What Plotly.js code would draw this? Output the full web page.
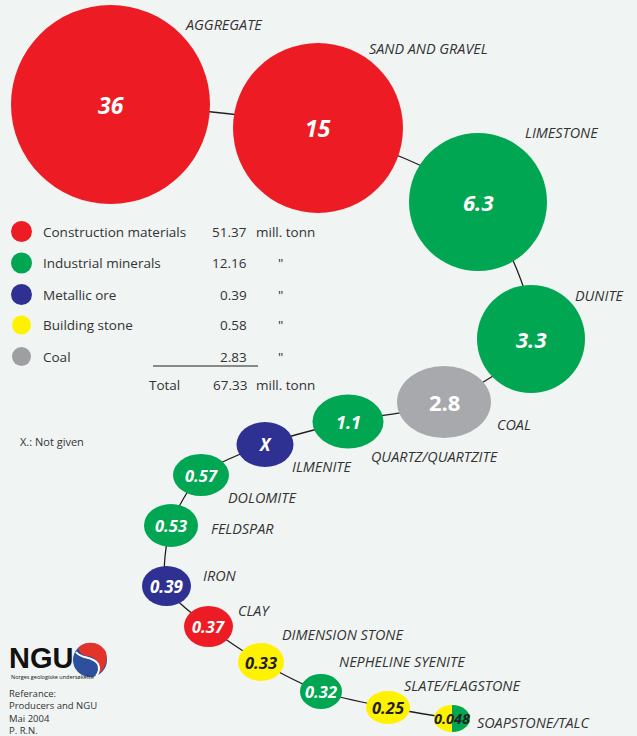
<!DOCTYPE html>
<html>
<head>
<meta charset="utf-8">
<script src="https://cdn.plot.ly/plotly-3.0.1.min.js"></script>
<style>
  html, body { margin: 0; padding: 0; background: #f0f4f3; }
  #chart { width: 637px; height: 736px; }
</style>
</head>
<body>
<div id="chart"></div>
<script>
// ---------------- DATA ----------------
const minerals = ['AGGREGATE', 'SAND AND GRAVEL', 'LIMESTONE', 'DUNITE', 'COAL',
  'QUARTZ/QUARTZITE', 'ILMENITE', 'DOLOMITE', 'FELDSPAR', 'IRON', 'CLAY',
  'DIMENSION STONE', 'NEPHELINE SYENITE', 'SLATE/FLAGSTONE', 'SOAPSTONE/TALC'];
const production = ['36', '15', '6.3', '3.3', '2.8', '1.1', 'X', '0.57', '0.53',
  '0.39', '0.37', '0.33', '0.32', '0.25', '0.048'];
const mineralGroup = ['Construction materials', 'Construction materials', 'Industrial minerals',
  'Industrial minerals', 'Coal', 'Industrial minerals', 'Metallic ore', 'Industrial minerals',
  'Industrial minerals', 'Metallic ore', 'Construction materials', 'Building stone',
  'Industrial minerals', 'Building stone', 'Building stone'];
// soapstone/talc is shared between two groups (half-and-half bubble)
const secondGroup = [null, null, null, null, null, null, null, null, null, null, null, null, null, null, 'Industrial minerals'];

const groups = ['Construction materials', 'Industrial minerals', 'Metallic ore', 'Building stone', 'Coal'];
const groupTotals = ['51.37', '12.16', '0.39', '0.58', '2.83'];
const groupUnits = ['mill. tonn', '"', '"', '"', '"'];
const totalLabel = 'Total';
const totalValue = '67.33';
const totalUnit = 'mill. tonn';
const noteText = 'X.: Not given';
const logoText = 'NGU';
const logoSubText = 'Norges geologiske undersøkelse';
const referenceLines = ['Referance:', 'Producers and NGU', 'Mai 2004', 'P. R.N.'];

// ---------------- LAYOUT GEOMETRY (pixel frame) ----------------
const cx = [110.5, 318, 478, 531, 444, 348, 265, 201, 171, 166.5, 208.5, 261, 321, 388, 452];
const cy = [104.5, 128, 202, 339, 402, 421.5, 444.5, 475, 525.5, 586, 626.5, 662, 691.5, 707.5, 718.5];
const rx = [99.5, 85, 69, 54, 47, 35.5, 28.5, 28, 27, 24.5, 24.5, 23, 21, 22, 18];
const ry = [99.5, 85, 69, 54, 36, 27, 22.5, 21, 21.5, 20, 20.5, 19, 17.5, 16.5, 13.5];
const labelX = [185, 369, 525, 575, 497, 371, 292, 228, 211, 203, 238, 282, 339, 404, 477];
const labelY = [24, 48, 132, 295, 424, 456, 466, 497, 528, 575, 610, 634, 661, 685, 722];
const valueSize = [23, 23, 22, 22, 22, 18, 17, 16.5, 16.5, 17, 16.5, 16.5, 16.5, 16.5, 14.5];
const valueItalic = [1, 1, 1, 1, 0, 1, 1, 1, 1, 1, 1, 1, 1, 1, 1];

const groupColor = {
  'Construction materials': '#ed1c24',
  'Industrial minerals': '#00a651',
  'Metallic ore': '#2e3192',
  'Building stone': '#fff200',
  'Coal': '#a7a9ac'
};
const legendDotColor = ['#ed1c24', '#00a651', '#2e3192', '#fff200', '#9d9fa2'];
const BG = '#f0f4f3';
const INK = '#231f20';
const TXT = '#333333';
const FONT = 'Open Sans, sans-serif';
const LEG = 13.5;

// ---------------- BUILD ----------------
const shapes = [];
const annotations = [];

mineralGroup.forEach((g, i) => {
  shapes.push({
    type: 'circle', xref: 'x', yref: 'y', layer: 'above',
    x0: cx[i] - rx[i], x1: cx[i] + rx[i], y0: cy[i] - ry[i], y1: cy[i] + ry[i],
    fillcolor: groupColor[g], line: { width: 0 }
  });
  if (secondGroup[i]) {
    const k = 0.5523, x = cx[i], y = cy[i], a = rx[i], b = ry[i];
    shapes.push({
      type: 'path', xref: 'x', yref: 'y', layer: 'above',
      path: `M ${x},${y - b} C ${x + k * a},${y - b} ${x + a},${y - k * b} ${x + a},${y} ` +
            `C ${x + a},${y + k * b} ${x + k * a},${y + b} ${x},${y + b} Z`,
      fillcolor: groupColor[secondGroup[i]], line: { width: 0 }
    });
  }
  const dark = g === 'Building stone';
  annotations.push({
    x: cx[i], y: cy[i], xref: 'x', yref: 'y', text: production[i], showarrow: false,
    xanchor: 'center', yanchor: 'middle',
    font: { family: FONT, size: valueSize[i], color: dark ? INK : '#ffffff', weight: 700,
            style: valueItalic[i] ? 'italic' : 'normal' }
  });
  annotations.push({
    x: labelX[i], y: labelY[i], xref: 'x', yref: 'y', text: minerals[i], showarrow: false,
    xanchor: 'left', yanchor: 'middle', xshift: -2,
    font: { family: FONT, size: 14.4, color: TXT, style: 'italic' }
  });
});

// legend block
const legY = [231.5, 263, 294.5, 325, 356.5];
const legR = [10.5, 10.5, 10.5, 9.5, 9.5];
groups.forEach((g, i) => {
  shapes.push({
    type: 'circle', xref: 'x', yref: 'y', layer: 'above',
    x0: 21.5 - legR[i], x1: 21.5 + legR[i], y0: legY[i] - legR[i], y1: legY[i] + legR[i],
    fillcolor: legendDotColor[i], line: { width: 0 }
  });
  annotations.push({ x: 41, y: legY[i], xref: 'x', yref: 'y', text: g, showarrow: false,
    xanchor: 'left', yanchor: 'middle', font: { family: FONT, size: LEG, color: TXT } });
  annotations.push({ x: 249, y: legY[i], xref: 'x', yref: 'y', text: groupTotals[i], showarrow: false,
    xanchor: 'right', yanchor: 'middle', font: { family: FONT, size: LEG, color: TXT } });
  const isUnit = groupUnits[i] !== '"';
  annotations.push({ x: isUnit ? 254 : 280, y: legY[i], xref: 'x', yref: 'y', text: groupUnits[i], showarrow: false,
    xanchor: isUnit ? 'left' : 'center', yanchor: 'middle', font: { family: FONT, size: LEG, color: TXT } });
});
shapes.push({ type: 'line', xref: 'x', yref: 'y', x0: 153, x1: 258, y0: 366, y1: 366,
  line: { color: INK, width: 1.2 } });
annotations.push({ x: 147, y: 384.5, xref: 'x', yref: 'y', text: totalLabel, showarrow: false,
  xanchor: 'left', yanchor: 'middle', font: { family: FONT, size: LEG, color: TXT } });
annotations.push({ x: 249, y: 384.5, xref: 'x', yref: 'y', text: totalValue, showarrow: false,
  xanchor: 'right', yanchor: 'middle', font: { family: FONT, size: LEG, color: TXT } });
annotations.push({ x: 254, y: 384.5, xref: 'x', yref: 'y', text: totalUnit, showarrow: false,
  xanchor: 'left', yanchor: 'middle', font: { family: FONT, size: LEG, color: TXT } });

annotations.push({ x: 18, y: 441, xref: 'x', yref: 'y', text: noteText, showarrow: false,
  xanchor: 'left', yanchor: 'middle', font: { family: FONT, size: 11, color: TXT } });

// NGU logo
annotations.push({ x: 8, y: 658, xref: 'x', yref: 'y', text: '<b>' + logoText + '</b>', showarrow: false,
  xanchor: 'left', yanchor: 'middle', height: 24, borderpad: 0,
  font: { family: 'Liberation Sans, Arial, sans-serif', size: 29, color: '#111111' } });
annotations.push({ x: 10, y: 676.5, xref: 'x', yref: 'y', text: logoSubText, showarrow: false,
  xanchor: 'left', yanchor: 'middle', borderpad: 0,
  font: { family: FONT, size: 5.5, color: '#111111' } });
shapes.push({ type: 'circle', xref: 'x', yref: 'y', layer: 'above', x0: 73, x1: 107, y0: 643, y1: 677,
  fillcolor: '#2e4f9e', line: { width: 0 } });
shapes.push({ type: 'path', xref: 'x', yref: 'y', layer: 'above',
  path: 'M 78,648 C 86,640 100,641 106,652 C 108,660 105,668 100,673 C 101,664 96,657 88,656 C 83,656 80,653 78,648 Z',
  fillcolor: '#e3342b', line: { width: 0 } });
shapes.push({ type: 'path', xref: 'x', yref: 'y', layer: 'above',
  path: 'M 76,652 C 82,660 92,655 98,664 C 100,668 99,673 96,676',
  line: { color: '#ffffff', width: 2 } });

annotations.push({ x: 8, y: 686, xref: 'x', yref: 'y', text: referenceLines.join('<br>'), showarrow: false,
  xanchor: 'left', yanchor: 'top', align: 'left', borderpad: 0,
  font: { family: FONT, size: 9.5, color: TXT } });

const connector = {
  type: 'scatter', mode: 'lines', x: cx, y: cy, hoverinfo: 'skip',
  line: { color: INK, width: 1.3, shape: 'spline', smoothing: 0.8 }
};

const layout = {
  width: 637, height: 736,
  margin: { l: 0, r: 0, t: 0, b: 0 },
  paper_bgcolor: BG, plot_bgcolor: BG,
  showlegend: false,
  xaxis: { range: [0, 637], visible: false, fixedrange: true },
  yaxis: { range: [736, 0], visible: false, fixedrange: true },
  shapes: shapes,
  annotations: annotations
};

Plotly.newPlot('chart', [connector], layout, { displayModeBar: false, staticPlot: true });
</script>
</body>
</html>
